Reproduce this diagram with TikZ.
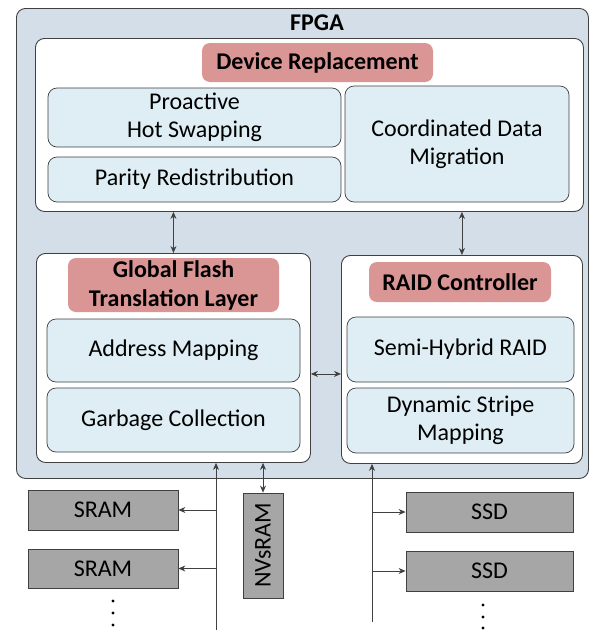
\documentclass[tikz,border=0pt]{standalone}
\usepackage{fontspec}
\setmainfont{Carlito}
\usetikzlibrary{arrows.meta}
\definecolor{fpgabg}{HTML}{D4DEE8}
\definecolor{subfill}{HTML}{DEEEF4}
\definecolor{labfill}{HTML}{D99694}
\definecolor{devfill}{HTML}{A6A6A6}
\definecolor{edgec}{HTML}{404040}
\begin{document}
\begin{tikzpicture}[x=1pt,y=-1pt,
  txt/.style={font=\fontsize{24}{28}\selectfont, text=black},
  fpgabox/.style={draw=edgec, fill=fpgabg, rounded corners=9pt, line width=0.9pt, inner sep=0pt, anchor=north west},
  groupbox/.style={draw=edgec, fill=white, rounded corners=9pt, line width=0.9pt, inner sep=0pt, anchor=north west},
  subbox/.style={txt, draw=edgec, fill=subfill, rounded corners=9pt, line width=0.7pt, inner sep=0pt, align=center},
  labbox/.style={txt, font=\bfseries\fontsize{24}{29}\selectfont, fill=labfill, rounded corners=8pt, inner sep=0pt, align=center},
  devbox/.style={txt, draw=edgec, fill=devfill, line width=0.8pt, inner sep=0pt},
  arr/.style={-{Stealth[length=7pt,width=6pt]}, line width=0.8pt, draw=edgec},
  biarr/.style={{Stealth[length=7pt,width=6pt]}-{Stealth[length=7pt,width=6pt]}, line width=0.8pt, draw=edgec},
  ln/.style={line width=0.8pt, draw=edgec}]
\useasboundingbox (0,0) rectangle (589,630);
% FPGA
\node[fpgabox, minimum width=572pt, minimum height=470pt] (fpga) at (16,8) {};
\node[txt, font=\bfseries\fontsize{24}{28}\selectfont] (fpgalabel) at (317,23) {FPGA};
% Device Replacement group
\node[groupbox, minimum width=548pt, minimum height=173pt] (dr) at (35,38) {};
\node[labbox, minimum width=231pt, minimum height=39pt] (drl) at (317.5,62.5) {Device Replacement};
\node[subbox, minimum width=293pt, minimum height=59pt] (phs) at (194.5,117.5) {Proactive\\Hot Swapping};
\node[subbox, minimum width=293pt, minimum height=45pt] (pr) at (194.5,179.5) {Parity Redistribution};
\node[subbox, minimum width=224pt, minimum height=116pt] (cdm) at (457,144) {Coordinated Data\\Migration};
% Global FTL group
\node[groupbox, minimum width=274pt, minimum height=209pt] (gftl) at (36,253) {};
\node[labbox, minimum width=211pt, minimum height=54pt] (gftll) at (173.5,285) {Global Flash\\Translation Layer};
\node[subbox, minimum width=253pt, minimum height=63pt] (am) at (173.5,350.5) {Address Mapping};
\node[subbox, minimum width=253pt, minimum height=64pt] (gc) at (173.5,420) {Garbage Collection};
% RAID group
\node[groupbox, minimum width=241pt, minimum height=208pt] (raid) at (341,255) {};
\node[labbox, minimum width=182pt, minimum height=40pt] (raidl) at (460,282) {RAID Controller};
\node[subbox, minimum width=227pt, minimum height=65pt] (shr) at (460.5,349.5) {Semi-Hybrid RAID};
\node[subbox, minimum width=227pt, minimum height=65pt] (dsm) at (460.5,420.5) {Dynamic Stripe\\Mapping};
% group arrows
\draw[biarr] (gftl.north |- dr.south) -- (gftl.north);
\draw[biarr] (raid.north |- dr.south) -- (raid.north);
\draw[biarr] ([yshift=-16pt]gftl.east) -- ([yshift=-16pt]gftl.east -| raid.west);
% devices
\node[devbox, minimum width=150pt, minimum height=40pt] (sram1) at (103,510) {SRAM};
\node[devbox, minimum width=150pt, minimum height=39pt] (sram2) at (103,568.5) {SRAM};
\node[devbox, minimum width=40pt, minimum height=105pt] (nv) at (263,545.5) {\rotatebox{90}{NVsRAM}};
\node[devbox, minimum width=167pt, minimum height=40pt] (ssd1) at (489.5,512) {SSD};
\node[devbox, minimum width=167pt, minimum height=40pt] (ssd2) at (489.5,571) {SSD};
% buses
\coordinate (busl) at (216,630);
\coordinate (busr) at (372,622);
\draw[arr] (busl) -- (busl |- gftl.south);
\draw[arr] (sram1.east -| busl) -- (sram1.east);
\draw[arr] (sram2.east -| busl) -- (sram2.east);
\draw[biarr] (nv.north |- gftl.south) -- (nv.north);
\draw[arr] (busr) -- (busr |- raid.south);
\draw[arr] (ssd1.west -| busr) -- (ssd1.west);
\draw[arr] (ssd2.west -| busr) -- (ssd2.west);
% ellipsis dots
\foreach \y in {601,613,625} \fill (113,\y) circle (1.6pt);
\foreach \y in {605,617,628} \fill (483,\y) circle (1.6pt);
\end{tikzpicture}
\end{document}
